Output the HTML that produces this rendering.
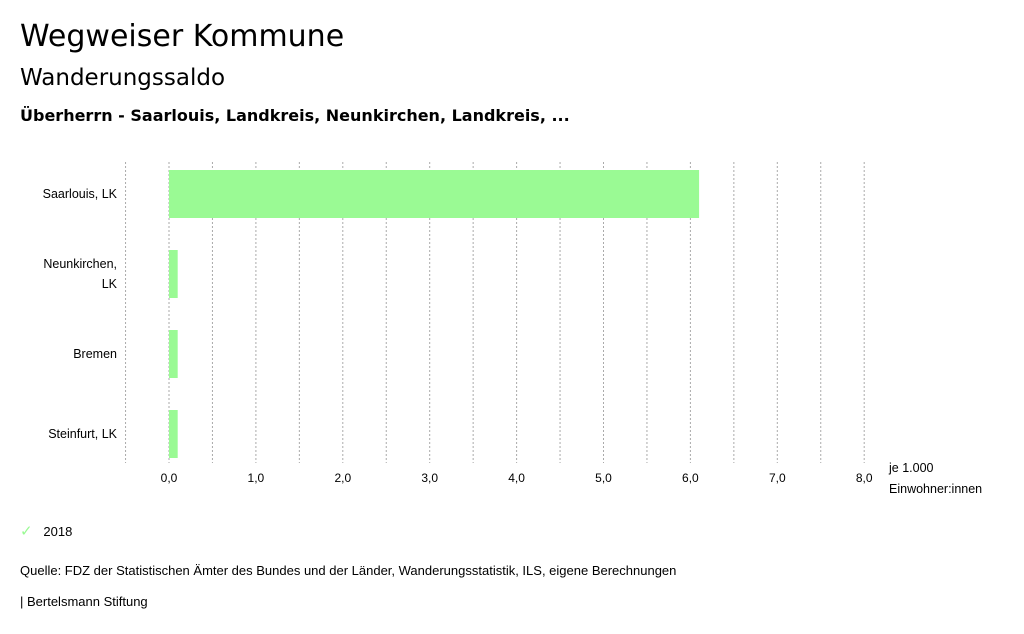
<!DOCTYPE html>
<html><head><meta charset="utf-8"><style>
body{margin:0;width:1024px;height:634px;background:#fff;font-family:"Liberation Sans","DejaVu Sans",sans-serif;color:#000;position:relative;overflow:hidden}
.t{position:absolute;white-space:nowrap}
</style></head><body>
<div class="t" style="left:20px;top:19px;font-size:30px;font-family:'DejaVu Sans',sans-serif">Wegweiser Kommune</div>
<div class="t" style="left:20px;top:65px;font-size:23px;font-family:'DejaVu Sans',sans-serif">Wanderungssaldo</div>
<div class="t" style="left:20px;top:106px;font-size:16px;font-weight:bold;font-family:'DejaVu Sans',sans-serif">Überherrn - Saarlouis, Landkreis, Neunkirchen, Landkreis, ...</div>
<svg id="chart" width="1024" height="634" style="position:absolute;left:0;top:0"></svg>
<div class="t" style="left:20px;top:522px;font-size:13px"><span style="color:#9afa94;font-size:15px">✓</span>&nbsp;&nbsp;&nbsp;2018</div>
<div class="t" style="left:20px;top:563px;font-size:13px">Quelle: FDZ der Statistischen Ämter des Bundes und der Länder, Wanderungsstatistik, ILS, eigene Berechnungen</div>
<div class="t" style="left:20px;top:594px;font-size:13px">| Bertelsmann Stiftung</div>
<script>
const categories=[["Saarlouis, LK"],["Neunkirchen,","LK"],["Bremen"],["Steinfurt, LK"]];
const values2018=[6.1,0.1,0.1,0.1];
const tickValues=[0,1,2,3,4,5,6,7,8];
const tickLabels=["0,0","1,0","2,0","3,0","4,0","5,0","6,0","7,0","8,0"];
const svg=document.getElementById('chart');
const NS='http://www.w3.org/2000/svg';
const x=v=>169+v*86.9;
const yc=i=>194+i*80;
function mk(t,a){const e=document.createElementNS(NS,t);for(const k in a)e.setAttribute(k,a[k]);svg.appendChild(e);return e;}
for(let g=-0.5;g<=8.001;g+=0.5){
 const l=mk('line',{x1:x(g),x2:x(g),y1:162,y2:463,stroke:'#aaa','stroke-dasharray':'2,2','stroke-width':1});
 
 
}
tickValues.forEach((v,i)=>{
 const t=mk('text',{x:x(v),y:482,'text-anchor':'middle','font-size':12,'font-family':'Liberation Sans, sans-serif'});
 t.textContent=tickLabels[i];
 
 
});
values2018.forEach((v,i)=>{
 const r=mk('rect',{x:x(0),y:yc(i)-24,width:x(v)-x(0),height:48,fill:'#9afa94'});
 
 
 const lines=categories[i];
 lines.forEach((s,j)=>{
  const t=mk('text',{x:117,y:yc(i)+4+(j-(lines.length-1)/2)*20,'text-anchor':'end','font-size':12.5,'font-family':'Liberation Sans, sans-serif'});
  t.textContent=s;
  
  
 });
});
[["je 1.000",472],["Einwohner:innen",493]].forEach(([s,y])=>{
 const t=mk('text',{x:889,y:y,'font-size':12.5,'font-family':'Liberation Sans, sans-serif'});
 t.textContent=s;
 
 
});
</script>
</body></html>
